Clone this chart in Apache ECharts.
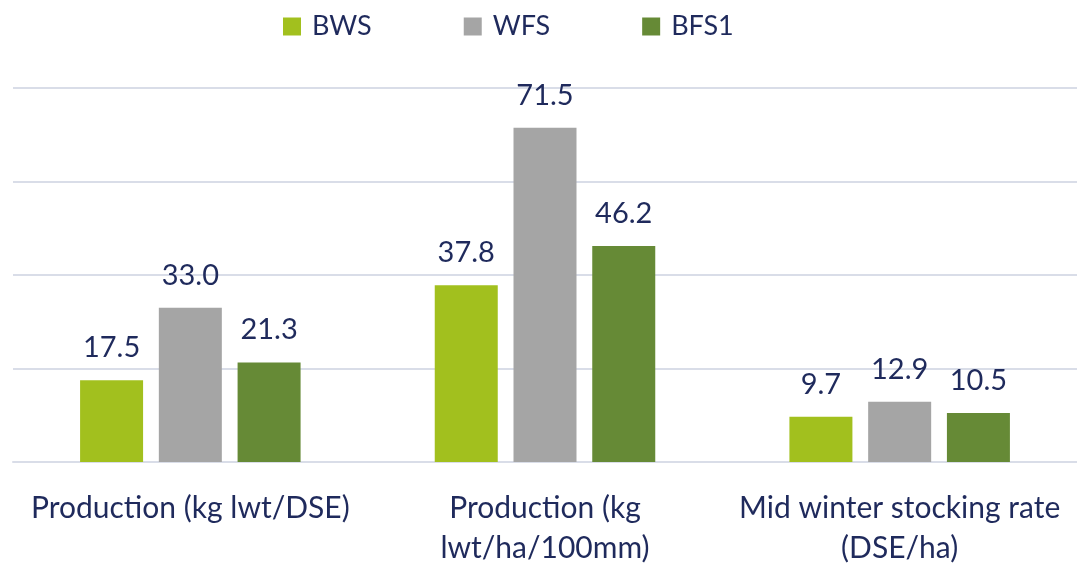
<!DOCTYPE html>
<html>
<head>
<meta charset="utf-8">
<script src="https://cdn.jsdelivr.net/npm/echarts@6/dist/echarts.min.js"></script>
<style>
  html, body { margin: 0; padding: 0; background: #fff; }
  #chart { width: 1077px; height: 563px; }
</style>
</head>
<body>
<div id="chart"></div>
<script>
// categories on the x axis
const categories = ['Production (kg lwt/DSE)', 'Production (kg\nlwt/ha/100mm)', 'Mid winter stocking rate\n(DSE/ha)']
// series values
const bws = [17.5, 37.8, 9.7]
const wfs = [33.0, 71.5, 12.9]
const bfs1 = [21.3, 46.2, 10.5]

const font = 'Lato, "Open Sans", sans-serif'
const textColor = '#1f2a5c'

const chart = echarts.init(document.getElementById('chart'))

const mkSeries = (name, data, color) => ({
  name,
  type: 'bar',
  data,
  barWidth: 63,
  barGap: '25%',
  itemStyle: { color },
  label: {
    show: true,
    position: 'top',
    distance: 18,
    formatter: (p) => p.value.toFixed(1),
    fontFamily: font,
    fontSize: 29,
    color: textColor
  }
})

chart.setOption({
  animation: false,
  legend: {
    top: 8,
    left: 278,
    itemWidth: 18,
    itemHeight: 18,
    itemGap: 92,
    icon: 'rect',
    textStyle: { fontFamily: font, fontSize: 27, color: textColor, padding: [0, 0, 0, 6] }
  },
  grid: { left: 13, right: 0, top: 88, bottom: 101, outerBoundsMode: 'none' },
  xAxis: {
    type: 'category',
    data: categories,
    axisTick: { show: false },
    axisLine: { lineStyle: { color: '#d9dde8', width: 2 } },
    axisLabel: {
      interval: 0,
      hideOverlap: false,
      fontFamily: font,
      fontSize: 30,
      color: textColor,
      margin: 26,
      lineHeight: 40
    }
  },
  yAxis: {
    type: 'value',
    min: 0,
    max: 80,
    interval: 20,
    axisLabel: { show: false },
    axisLine: { show: false },
    splitLine: { lineStyle: { color: '#d9dde8', width: 2 } }
  },
  series: [
    mkSeries('BWS', bws, '#a2c01e'),
    mkSeries('WFS', wfs, '#a5a5a5'),
    mkSeries('BFS1', bfs1, '#668a36')
  ]
})
</script>
</body>
</html>
